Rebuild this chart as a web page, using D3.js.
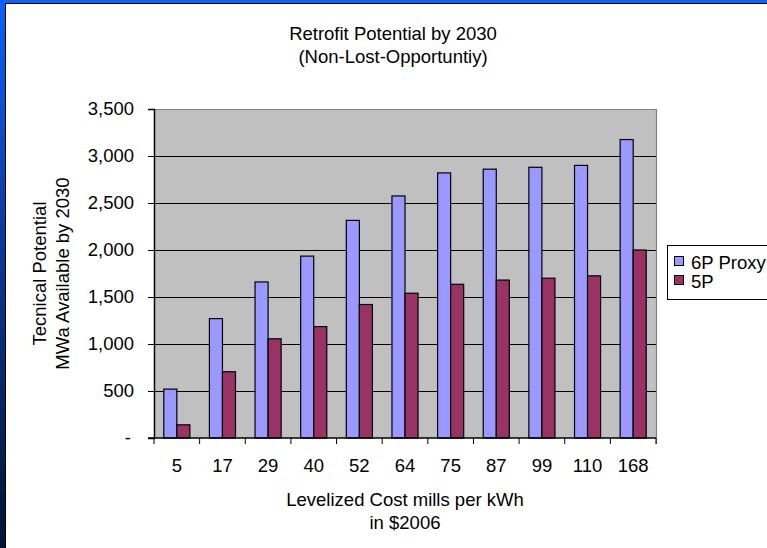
<!DOCTYPE html>
<html>
<head>
<meta charset="utf-8">
<script src="https://cdn.jsdelivr.net/npm/d3@7"></script>
<style>
  html, body { margin: 0; padding: 0; background: #fff; }
  svg { display: block; }
  text { font-family: "Liberation Sans", Arial, sans-serif; fill: #000; }
</style>
</head>
<body>
<svg id="chart" width="767" height="548"></svg>
<script>
// Levelized cost bins (mills per kWh, $2006)
const categories = ["5", "17", "29", "40", "52", "64", "75", "87", "99", "110", "168"];
const seriesNames = ["6P Proxy", "5P"];
// Technical potential, MWa available by 2030
const proxy6P = [520, 1270, 1660, 1935, 2315, 2575, 2820, 2860, 2880, 2900, 3175];
const p5 = [140, 705, 1055, 1185, 1420, 1540, 1635, 1680, 1700, 1725, 2000];
const yTicks = [0, 500, 1000, 1500, 2000, 2500, 3000, 3500];

const colors = { "6P Proxy": "#9999FF", "5P": "#993366" };
const FS = "18.5px";
const svg = d3.select("#chart");
const W = 767, H = 548;

// slide frame: blue gradient behind a white panel
const defs = svg.append("defs");
const grad = defs.append("linearGradient").attr("id", "frame")
  .attr("x1", 0).attr("y1", 0).attr("x2", 0).attr("y2", 1);
grad.append("stop").attr("offset", "0%").attr("stop-color", "#0a62ff");
grad.append("stop").attr("offset", "45%").attr("stop-color", "#0a3a9a");
grad.append("stop").attr("offset", "100%").attr("stop-color", "#001433");
svg.append("rect").attr("width", W).attr("height", H).attr("fill", "url(#frame)");
svg.append("rect").attr("x", 5).attr("y", 3).attr("width", W - 5).attr("height", H - 3)
  .attr("fill", "#000");
svg.append("rect").attr("x", 6).attr("y", 4).attr("width", W - 6).attr("height", H - 4)
  .attr("fill", "#fff");

const plot = { left: 154, right: 656, top: 109, bottom: 438 };

const x0 = d3.scaleBand().domain(categories).range([plot.left, plot.right])
  .paddingInner(0).paddingOuter(0);
const x1 = d3.scaleBand().domain(seriesNames).range([0, x0.bandwidth()])
  .paddingInner(0).paddingOuter(0.75);
const y = d3.scaleLinear().domain([0, 3500]).range([plot.bottom, plot.top]);

// plot background
svg.append("rect")
  .attr("x", plot.left).attr("y", plot.top)
  .attr("width", plot.right - plot.left).attr("height", plot.bottom - plot.top)
  .attr("fill", "#C0C0C0");

// horizontal gridlines
svg.append("g").selectAll("line")
  .data(yTicks.filter(v => v > 0 && v < 3500))
  .join("line")
  .attr("x1", plot.left).attr("x2", plot.right)
  .attr("y1", d => Math.round(y(d)) + 0.5).attr("y2", d => Math.round(y(d)) + 0.5)
  .attr("stroke", "#000").attr("stroke-width", 1);

// top and right border of plot area
svg.append("path")
  .attr("d", `M${plot.left - 6},${plot.top + 0.5}H${plot.right + 0.5}V${plot.bottom + 6}`)
  .attr("fill", "none").attr("stroke", "#808080").attr("stroke-width", 1.2);

// bars
const rows = categories.map((c, i) => ({ cat: c, values: [
  { key: "6P Proxy", value: proxy6P[i] },
  { key: "5P", value: p5[i] }
]}));

const groups = svg.append("g").selectAll("g")
  .data(rows).join("g")
  .attr("transform", d => `translate(${x0(d.cat)},0)`);

groups.selectAll("rect")
  .data(d => d.values).join("rect")
  .attr("x", d => x1(d.key))
  .attr("y", d => y(d.value))
  .attr("width", x1.bandwidth())
  .attr("height", d => y(0) - y(d.value))
  .attr("fill", d => colors[d.key])
  .attr("stroke", "#000").attr("stroke-width", 1.2);

// y axis
const yAxis = d3.axisLeft(y).tickValues(yTicks).tickSize(6).tickPadding(14)
  .tickFormat(d => d === 0 ? "-" : d3.format(",")(d));
const gy = svg.append("g").attr("transform", `translate(${plot.left},0)`).call(yAxis);
gy.select(".domain").attr("stroke", "#000").attr("stroke-width", 1.5);
gy.selectAll(".tick line").attr("stroke", "#000");
gy.selectAll(".tick text").style("font-size", FS)
  .attr("dx", d => d === 0 ? -3 : 0);

// x axis: labels at band centres, ticks on band edges
const xAxis = d3.axisBottom(x0).tickSize(0).tickPadding(21);
const gx = svg.append("g").attr("transform", `translate(0,${plot.bottom})`).call(xAxis);
gx.select(".domain").remove();
gx.selectAll(".tick text").style("font-size", FS);
svg.append("line")
  .attr("x1", plot.left - 6).attr("x2", plot.right)
  .attr("y1", plot.bottom).attr("y2", plot.bottom)
  .attr("stroke", "#000").attr("stroke-width", 1.5);
svg.append("g").selectAll("line")
  .data(categories.map(c => x0(c)).concat([plot.right]))
  .join("line")
  .attr("x1", d => d).attr("x2", d => d)
  .attr("y1", plot.bottom).attr("y2", plot.bottom + 6)
  .attr("stroke", "#000").attr("stroke-width", 1);

// titles
const cx = (plot.left + plot.right) / 2;
svg.append("text").attr("x", 393).attr("y", 40).attr("text-anchor", "middle")
  .style("font-size", FS).text("Retrofit Potential by 2030");
svg.append("text").attr("x", 393).attr("y", 63).attr("text-anchor", "middle")
  .style("font-size", FS).text("(Non-Lost-Opportuntiy)");

svg.append("text").attr("x", cx).attr("y", 506).attr("text-anchor", "middle")
  .style("font-size", FS).text("Levelized Cost mills per kWh");
svg.append("text").attr("x", cx).attr("y", 529).attr("text-anchor", "middle")
  .style("font-size", FS).text("in $2006");

const cy = (plot.top + plot.bottom) / 2;
const yTitle = svg.append("text")
  .attr("transform", `translate(0,${cy}) rotate(-90)`)
  .attr("text-anchor", "middle").style("font-size", FS);
yTitle.append("tspan").attr("x", 0).attr("y", 46).text("Tecnical Potential");
yTitle.append("tspan").attr("x", 0).attr("y", 69).text("MWa Available by 2030");

// legend
const lg = svg.append("g").attr("transform", "translate(667,245)");
lg.append("rect").attr("x", 0.5).attr("y", 0.5).attr("width", 120).attr("height", 54)
  .attr("fill", "#fff").attr("stroke", "#000").attr("stroke-width", 1);
seriesNames.forEach((s, i) => {
  const yy = 17 + i * 19;
  lg.append("rect").attr("x", 7.5).attr("y", yy - 5.5).attr("width", 9).attr("height", 9)
    .attr("fill", colors[s]).attr("stroke", "#000").attr("stroke-width", 1);
  lg.append("text").attr("x", 24).attr("y", yy + 6.5)
    .style("font-size", FS).text(s);
});
</script>
</body>
</html>
